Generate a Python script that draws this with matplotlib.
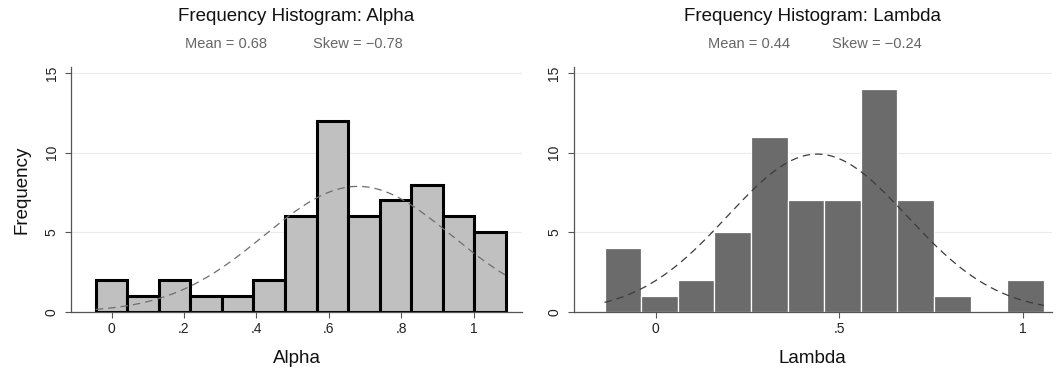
import numpy as np
import matplotlib
matplotlib.use("Agg")
import matplotlib.pyplot as plt

plt.rcParams['font.family'] = ['Liberation Sans', 'DejaVu Sans']

# Alpha histogram
alpha_start = -0.044
alpha_width = 0.0871
alpha_counts = [2, 1, 2, 1, 1, 2, 6, 12, 6, 7, 8, 6, 5]
alpha_mean = 0.68
alpha_sd = 0.26
alpha_skew = -0.78

# Lambda histogram
lambda_start = -0.14
lambda_width = 0.0998
lambda_counts = [4, 1, 2, 5, 11, 7, 7, 14, 7, 1, 0, 2]
lambda_mean = 0.44
lambda_sd = 0.245
lambda_skew = -0.24

alpha_ticks = [0, 0.2, 0.4, 0.6, 0.8, 1]
alpha_ticklabels = ['0', '.2', '.4', '.6', '.8', '1']
lambda_ticks = [0, 0.5, 1]
lambda_ticklabels = ['0', '.5', '1']
y_ticks = [0, 5, 10, 15]


def draw_hist(ax, start, width, counts, mean, sd, skew, name,
              xticks, xticklabels, xlim, fill, edge, lw, curve_col, sub_pos):
    counts = np.array(counts)
    edges = start + width * np.arange(len(counts) + 1)
    ax.bar(edges[:-1], counts, width=width, align='edge', color=fill,
           edgecolor=edge, linewidth=lw, zorder=2)

    # fitted normal curve
    xs = np.linspace(edges[0], edges[-1], 300)
    ys = counts.sum() * width / (sd * np.sqrt(2 * np.pi)) * np.exp(-0.5 * ((xs - mean) / sd) ** 2)
    ax.plot(xs, ys, ls=(0, (6, 4)), color=curve_col, lw=0.9, zorder=3)

    ax.set_xlim(*xlim)
    ax.set_ylim(0, 15.4)
    ax.set_xticks(xticks)
    ax.set_xticklabels(xticklabels, fontsize=10)
    ax.set_yticks(y_ticks)
    ax.set_yticklabels([str(t) for t in y_ticks], fontsize=10, rotation=90, va='center')
    ax.tick_params(axis='both', color='#555555', length=4, width=0.8, labelcolor='#222222')
    ax.tick_params(axis='y', pad=5)
    ax.grid(axis='y', color='#ebebeb', lw=0.8, zorder=0)
    ax.set_axisbelow(True)
    for s in ['top', 'right']:
        ax.spines[s].set_visible(False)
    for s in ['left', 'bottom']:
        ax.spines[s].set_color('#555555')
        ax.spines[s].set_linewidth(0.9)

    ax.set_xlabel(name, fontsize=13.5, labelpad=10, color='#111111')
    ax.text(0.5, 1.203, 'Frequency Histogram: ' + name, transform=ax.transAxes,
            ha='center', va='center', fontsize=13.5, color='#111111')
    ax.text(sub_pos[0], 1.093, 'Mean = %.2f' % mean, transform=ax.transAxes,
            ha='right', va='center', fontsize=10.5, color='#666666')
    ax.text(sub_pos[1], 1.093, 'Skew = \u2212%.2f' % abs(skew), transform=ax.transAxes,
            ha='left', va='center', fontsize=10.5, color='#666666')


fig = plt.figure(figsize=(10.62, 3.70), dpi=100)
ax1 = fig.add_axes([0.0669, 0.1568, 0.4246, 0.663])
ax2 = fig.add_axes([0.5402, 0.1568, 0.4504, 0.663])

draw_hist(ax1, alpha_start, alpha_width, alpha_counts, alpha_mean, alpha_sd, alpha_skew,
          'Alpha', alpha_ticks, alpha_ticklabels, (-0.112, 1.133),
          '#c0c0c0', '#000000', 2.2, '#6e6e6e', (0.435, 0.537))
draw_hist(ax2, lambda_start, lambda_width, lambda_counts, lambda_mean, lambda_sd, lambda_skew,
          'Lambda', lambda_ticks, lambda_ticklabels, (-0.224, 1.08),
          '#6b6b6b', '#ffffff', 0.9, '#3c3c3c', (0.4525, 0.54))

ax1.set_ylabel('Frequency', fontsize=13.5, labelpad=10, color='#111111')

fig.savefig('out.png', dpi=100)
